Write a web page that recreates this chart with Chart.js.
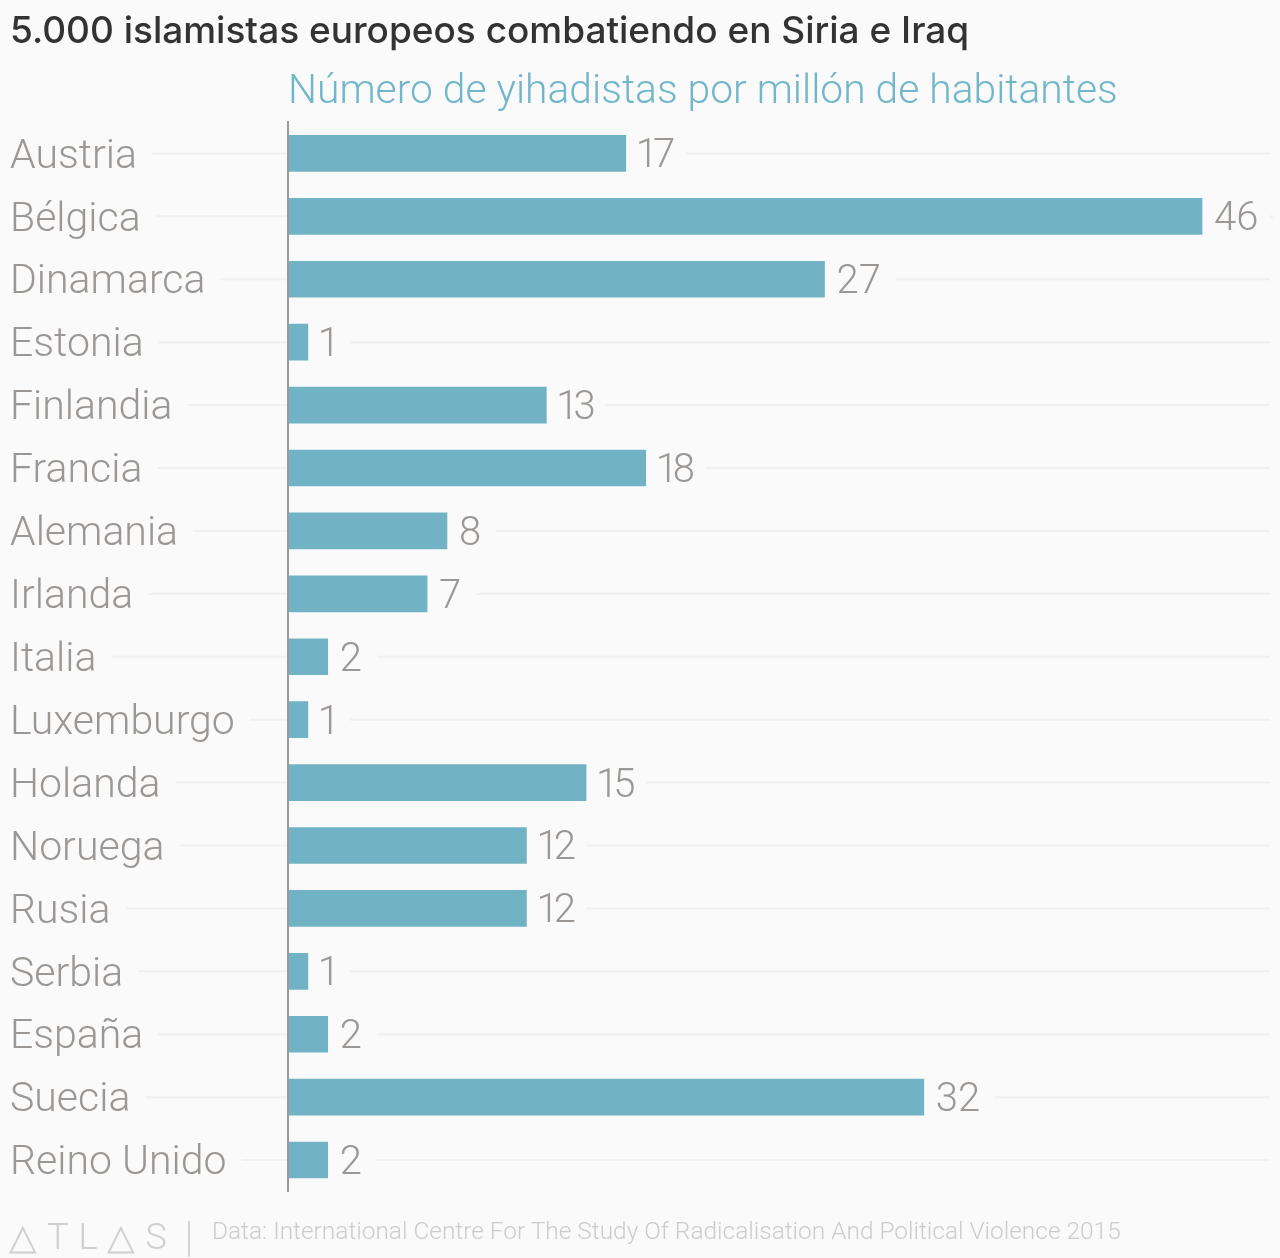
<!DOCTYPE html>
<html>
<head>
<meta charset="utf-8">
<script src="https://cdn.jsdelivr.net/npm/chart.js@4"></script>
<style>
  html, body { margin: 0; padding: 0; background: #fafafa; }
  #wrap { position: relative; width: 1280px; height: 1258px; overflow: hidden; }
  canvas { position: absolute; left: 0; top: 0; }
  .foot { position: absolute; white-space: nowrap; font-family: Roboto, sans-serif; font-weight: 300; }
  #logo { left: 9px; top: 1216px; font-size: 36px; line-height: 42px; letter-spacing: 10px; color: #cfcfcf; }
  #rule { left: 188px; top: 1221px; width: 2px; height: 36px; background: #d4d4d4; }
  #source { left: 212px; top: 1216px; font-size: 24.45px; line-height: 30px; color: #cccccc; }
</style>
</head>
<body>
<div id="wrap">
  <canvas id="chart" width="1280" height="1258"></canvas>
  <div class="foot" id="logo">△TL△S</div>
  <div class="foot" id="rule"></div>
  <div class="foot" id="source">Data: International Centre For The Study Of Radicalisation And Political Violence 2015</div>
</div>
<script>
const titleText = '5.000 islamistas europeos combatiendo en Siria e Iraq'
const subtitleText = 'Número de yihadistas por millón de habitantes'
const countries = ['Austria', 'Bélgica', 'Dinamarca', 'Estonia', 'Finlandia', 'Francia', 'Alemania', 'Irlanda', 'Italia',
  'Luxemburgo', 'Holanda', 'Noruega', 'Rusia', 'Serbia', 'España', 'Suecia', 'Reino Unido']
const fighters = [17, 46, 27, 1, 13, 18, 8, 7, 2, 1, 15, 12, 12, 1, 2, 32, 2]

const labelFont = '300 41px Roboto'
const valueFont = '300 40px Roboto'
const labelColor = '#9b9794'
const gridColor = '#f0f0f0'
const barColor = '#71b3c4'

// the reference has a narrow figure 1, Roboto's is tabular
const valueSpacing = (value) => (String(value)[0] === '1' ? '-5px' : '0px')
const valueGap = (value) => (String(value)[0] === '1' ? 10 : 12)

// value labels next to the bars, and the grid lines that stop short of the text
const rowLines = {
  id: 'rowLines',
  beforeDatasetsDraw(chart) {
    const { ctx, chartArea, scales } = chart
    const bars = chart.getDatasetMeta(0).data
    ctx.save()
    ctx.strokeStyle = gridColor
    ctx.lineWidth = 2
    countries.forEach((name, i) => {
      const y = scales.y.getPixelForTick(i)
      ctx.font = labelFont
      const leftStart = 10 + ctx.measureText(name).width + 15
      ctx.font = valueFont
      ctx.letterSpacing = valueSpacing(fighters[i])
      const rightStart = bars[i].x + valueGap(fighters[i]) + ctx.measureText(String(fighters[i])).width + 15
      ctx.letterSpacing = '0px'
      ctx.beginPath()
      ctx.moveTo(leftStart, y)
      ctx.lineTo(chartArea.left, y)
      ctx.moveTo(rightStart, y)
      ctx.lineTo(chartArea.right, y)
      ctx.stroke()
    })
    ctx.restore()
  },
  afterDatasetsDraw(chart) {
    const { ctx } = chart
    const bars = chart.getDatasetMeta(0).data
    ctx.save()
    ctx.font = valueFont
    ctx.fillStyle = labelColor
    ctx.textAlign = 'left'
    ctx.textBaseline = 'middle'
    bars.forEach((bar, i) => {
      ctx.letterSpacing = valueSpacing(fighters[i])
      ctx.fillText(String(fighters[i]), bar.x + valueGap(fighters[i]), bar.y + 4)
    })
    ctx.restore()
  }
}

new Chart(document.getElementById('chart'), {
  type: 'bar',
  data: {
    labels: countries,
    datasets: [{ data: fighters, backgroundColor: barColor, barThickness: 36, borderWidth: 0 }]
  },
  options: {
    indexAxis: 'y',
    responsive: false,
    animation: false,
    devicePixelRatio: 1,
    layout: { padding: { left: 10, right: 10, bottom: 66.5, top: 0 } },
    plugins: {
      legend: { display: false },
      tooltip: { enabled: false },
      title: {
        display: true,
        text: titleText,
        align: 'start',
        color: '#333333',
        font: { family: 'Inter', size: 37, weight: '500', lineHeight: 1.2 },
        padding: { top: 10, bottom: 13.6 }
      },
      subtitle: {
        display: true,
        text: subtitleText,
        align: 'start',
        fullSize: false,
        color: '#71b6ca',
        font: { family: 'Roboto', size: 40.8, weight: '300', lineHeight: 1.2 },
        padding: { top: 0, bottom: 5 }
      }
    },
    scales: {
      x: { display: false, min: 0, max: 49.42 },
      y: {
        afterFit(scale) { scale.width = 278 },
        grid: { display: false },
        border: { display: true, color: '#9a9a9a', width: 2, z: 1 },
        ticks: {
          crossAlign: 'far',
          autoSkip: false,
          labelOffset: 4,
          color: labelColor,
          font: { family: 'Roboto', size: 41, weight: '300' }
        }
      }
    }
  },
  plugins: [rowLines]
})
</script>
</body>
</html>
